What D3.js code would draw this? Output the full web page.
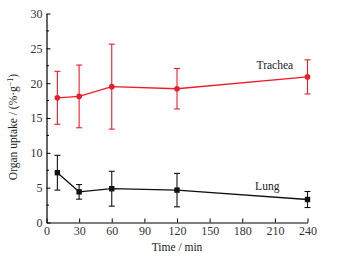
<!DOCTYPE html>
<html>
<head>
<meta charset="utf-8">
<script src="https://cdn.jsdelivr.net/npm/d3@7"></script>
<style>
  body { margin: 0; background: #fff; }
  text { font-family: "Liberation Serif", "DejaVu Serif", serif; }
</style>
</head>
<body>
<svg id="chart" width="339" height="258"></svg>
<script>
var times = [10, 30, 60, 120, 240];
var tracheaMean = [17.9, 18.1, 19.5, 19.2, 20.9];
var tracheaErr = [3.8, 4.5, 6.1, 2.9, 2.45];
var lungMean = [7.15, 4.4, 4.85, 4.65, 3.3];
var lungErr = [2.5, 1.05, 2.5, 2.4, 1.15];
var xTicks = [0, 30, 60, 90, 120, 150, 180, 210, 240];
var yTicks = [0, 5, 10, 15, 20, 25, 30];

var svg = d3.select("#chart");

var x = d3.scaleLinear().domain([0, 240]).range([46.5, 307.5]);
var y = d3.scaleLinear().domain([0, 30]).range([222.5, 13.5]);

// axes, ticks pointing inward
var xAxis = svg.append("g")
  .attr("transform", "translate(0," + y(0) + ")")
  .call(d3.axisBottom(x).tickValues(xTicks).tickSize(-4).tickPadding(4).tickSizeOuter(0));
var yAxis = svg.append("g")
  .attr("transform", "translate(" + x(0) + ",0)")
  .call(d3.axisLeft(y).tickValues(yTicks).tickSize(-4).tickPadding(4).tickSizeOuter(0));

// minor ticks on y
svg.append("g").selectAll("line")
  .data(d3.range(2.5, 30, 5))
  .enter().append("line")
  .attr("x1", x(0)).attr("x2", x(0) + 2.5)
  .attr("y1", function(d){ return y(d); })
  .attr("y2", function(d){ return y(d); })
  .attr("stroke", "#000");

[xAxis, yAxis].forEach(function(a){
  a.select(".domain").attr("stroke", "#000").attr("stroke-width", 1.2);
  a.selectAll(".tick line").attr("stroke", "#000");
  a.selectAll(".tick text")
    .attr("font-family", "Liberation Serif, serif")
    .attr("font-size", 12).attr("fill", "#333");
});

function drawSeries(means, errs, color, marker) {
  var pts = times.map(function(t, i){ return [t, means[i], errs[i]]; });
  var line = d3.line()
    .x(function(d){ return x(d[0]); })
    .y(function(d){ return y(d[1]); });
  svg.append("path")
    .datum(pts)
    .attr("d", line)
    .attr("fill", "none")
    .attr("stroke", color)
    .attr("stroke-width", 1.3);

  var eb = svg.append("g").attr("stroke", color).attr("stroke-width", 1.1);
  pts.forEach(function(d){
    var cx = x(d[0]), top = y(d[1] + d[2]), bot = y(d[1] - d[2]);
    eb.append("line").attr("x1", cx).attr("x2", cx).attr("y1", top).attr("y2", bot);
    eb.append("line").attr("x1", cx - 3).attr("x2", cx + 3).attr("y1", top).attr("y2", top);
    eb.append("line").attr("x1", cx - 3).attr("x2", cx + 3).attr("y1", bot).attr("y2", bot);
  });

  if (marker == "circle") {
    svg.append("g").selectAll("circle")
      .data(pts).enter().append("circle")
      .attr("cx", function(d){ return x(d[0]); })
      .attr("cy", function(d){ return y(d[1]); })
      .attr("r", 2.8)
      .attr("fill", color);
  } else {
    svg.append("g").selectAll("rect")
      .data(pts).enter().append("rect")
      .attr("x", function(d){ return x(d[0]) - 2.7; })
      .attr("y", function(d){ return y(d[1]) - 2.7; })
      .attr("width", 5.4).attr("height", 5.4)
      .attr("fill", color);
  }
}

drawSeries(tracheaMean, tracheaErr, "#ee1c2a", "circle");
drawSeries(lungMean, lungErr, "#111", "square");

// series labels
svg.append("text").attr("x", x(210)).attr("y", y(22.1))
  .attr("text-anchor", "middle").attr("font-size", 11.5).attr("fill", "#222")
  .text("Trachea");
svg.append("text").attr("x", x(203)).attr("y", y(4.7))
  .attr("text-anchor", "middle").attr("font-size", 11.5).attr("fill", "#222")
  .text("Lung");

// axis titles
svg.append("text").attr("x", x(120)).attr("y", 251)
  .attr("text-anchor", "middle").attr("font-size", 11.5).attr("fill", "#222")
  .text("Time / min");

var yl = svg.append("text")
  .attr("transform", "translate(17," + 127 + ") rotate(-90)")
  .attr("text-anchor", "middle").attr("font-size", 11.5).attr("fill", "#222");
yl.append("tspan").text("Organ uptake / (%\u00b7g");
yl.append("tspan").attr("font-size", 8).attr("dy", -4).text("\u22121");
yl.append("tspan").attr("dy", 4).text(")");
</script>
</body>
</html>
